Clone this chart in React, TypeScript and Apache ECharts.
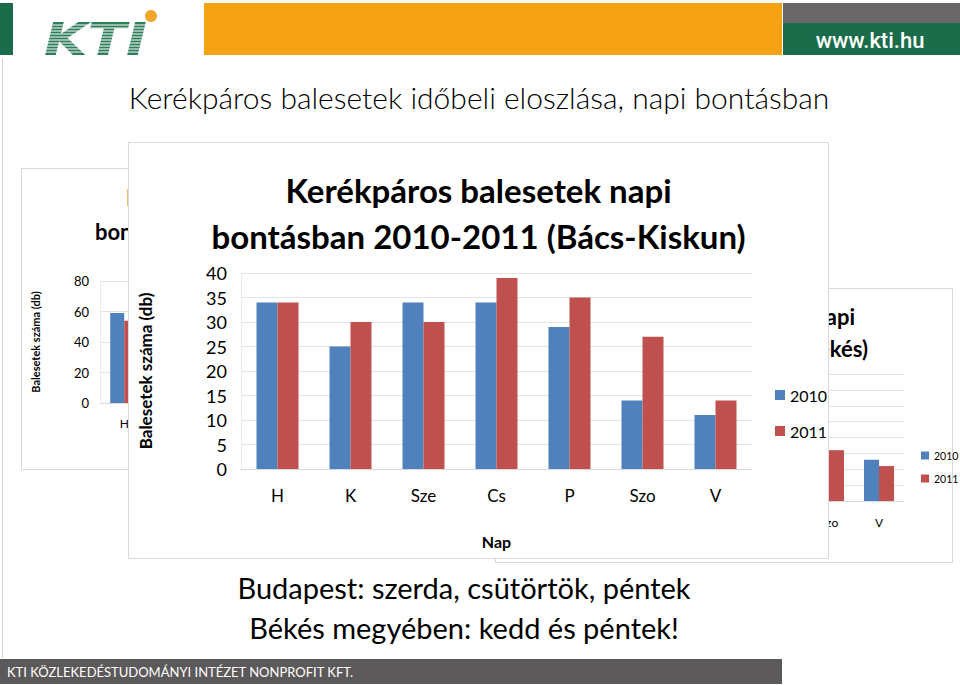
import React, { useEffect, useRef } from "react";
import * as echarts from "echarts";

const days = ["H", "K", "Sze", "Cs", "P", "Szo", "V"];
const seriesNames = ["2010", "2011"];
// Bács-Kiskun (front chart)
const bacs2010 = [34, 25, 34, 34, 29, 14, 11];
const bacs2011 = [34, 30, 30, 39, 35, 27, 14];
// Budapest (background chart, only Monday visible)
const bp2010 = [59, null, null, null, null, null, null];
const bp2011 = [54, null, null, null, null, null, null];
// Békés (background chart, only Sat/Sun visible)
const bekes2010 = [null, null, null, null, null, 20, 13];
const bekes2011 = [null, null, null, null, null, 16, 11];

const bacsTicks = { min: 0, max: 40, interval: 5 };
const bpTicks = { min: 0, max: 80, interval: 20 };
const bekesTicks = { min: 0, max: 40, interval: 5 };

const BLUE = "#4f81bd";
const RED = "#c0504d";
const FONT = "Lato, 'Noto Sans', sans-serif";
const GRID_LINE = "#e3e3e3";

function Chart({ style, option }: { style: React.CSSProperties; option: any }) {
  const ref = useRef<HTMLDivElement>(null);
  useEffect(() => {
    const chart = echarts.init(ref.current!, null, { renderer: "svg" });
    chart.setOption(option);
    return () => chart.dispose();
  }, []);
  return <div ref={ref} style={style} />;
}

const backgroundOption = {
  animation: false,
  backgroundColor: "#fff",
  graphic: [
    { type: "rect", shape: { x: 0, y: 3, width: 13, height: 52 }, style: { fill: "#1b6c4b" } },
    {
      type: "text",
      x: 44,
      y: 40,
      scaleX: 1.28,
      style: {
        text: "KTI",
        font: "italic 900 44px 'DejaVu Sans', sans-serif",
        fill: "#2e7d5b",
        textAlign: "left",
        textVerticalAlign: "middle",
      },
    },
    ...[25, 28, 31, 34, 37, 40, 43, 46, 49, 52].map((y) => ({
      type: "line",
      shape: { x1: 40, y1: y, x2: 165, y2: y },
      style: { stroke: "#ffffff", lineWidth: 1 },
      z: 5,
    })),
    { type: "circle", shape: { cx: 151, cy: 16, r: 6 }, style: { fill: "#f2a72b" }, z: 6 },
    { type: "rect", shape: { x: 204, y: 3, width: 578, height: 52 }, style: { fill: "#f5a214" } },
    { type: "rect", shape: { x: 783, y: 3, width: 177, height: 20 }, style: { fill: "#6a6768" } },
    { type: "rect", shape: { x: 783, y: 23, width: 177, height: 32 }, style: { fill: "#1b6c4b" } },
    {
      type: "text",
      x: 870,
      y: 40,
      style: {
        text: "www.kti.hu",
        font: "500 22px Roboto, sans-serif",
        fill: "#ffffff",
        textAlign: "center",
        textVerticalAlign: "middle",
      },
    },
    {
      type: "text",
      x: 479,
      y: 97,
      style: {
        text: "Kerékpáros balesetek időbeli eloszlása, napi bontásban",
        font: "300 30px " + FONT,
        fill: "#000",
        textAlign: "center",
        textVerticalAlign: "middle",
      },
    },
    {
      type: "text",
      x: 464,
      y: 587,
      style: {
        text: "Budapest: szerda, csütörtök, péntek",
        font: "29px " + FONT,
        fill: "#000",
        textAlign: "center",
        textVerticalAlign: "middle",
      },
    },
    {
      type: "text",
      x: 464,
      y: 627,
      style: {
        text: "Békés megyében: kedd és péntek!",
        font: "29px " + FONT,
        fill: "#000",
        textAlign: "center",
        textVerticalAlign: "middle",
      },
    },
    { type: "rect", shape: { x: 0, y: 659, width: 782, height: 25 }, style: { fill: "#5b5959" } },
    {
      type: "text",
      x: 7,
      y: 672,
      style: {
        text: "KTI KÖZLEKEDÉSTUDOMÁNYI INTÉZET NONPROFIT KFT.",
        font: "13px " + FONT,
        fill: "#ffffff",
        textAlign: "left",
        textVerticalAlign: "middle",
      },
    },
    { type: "line", shape: { x1: 2.5, y1: 58, x2: 2.5, y2: 658 }, style: { stroke: "#d6d6d6", lineWidth: 1 } },
  ],
};

function barSeries(d2010: any[], d2011: any[], width: number) {
  return [
    { name: seriesNames[0], type: "bar", data: d2010, barWidth: width, barGap: "0%", itemStyle: { color: BLUE } },
    { name: seriesNames[1], type: "bar", data: d2011, barWidth: width, barGap: "0%", itemStyle: { color: RED } },
  ];
}

const frontOption = {
  animation: false,
  backgroundColor: "#fff",
  textStyle: { fontFamily: FONT },
  title: {
    text: "Kerékpáros balesetek napi\nbontásban 2010-2011 (Bács-Kiskun)",
    left: "center",
    top: 19,
    textStyle: { fontFamily: FONT, fontSize: 33, fontWeight: "bold", lineHeight: 46, color: "#000" },
  },
  legend: {
    orient: "vertical",
    left: 641,
    top: 239,
    data: seriesNames,
    icon: "rect",
    itemWidth: 10,
    itemHeight: 10,
    itemGap: 20,
    textStyle: { fontFamily: FONT, fontSize: 16, color: "#000" },
  },
  grid: { left: 107, right: 76, top: 130, bottom: 89 },
  xAxis: {
    type: "category",
    data: days,
    axisLine: { lineStyle: { color: "#d9d9d9" } },
    axisTick: { show: false },
    axisLabel: { fontSize: 17, color: "#000", margin: 18 },
    name: "Nap",
    nameLocation: "middle",
    nameGap: 64,
    nameTextStyle: { fontSize: 16, fontWeight: "bold", color: "#000" },
  },
  yAxis: {
    type: "value",
    ...bacsTicks,
    axisLine: { show: true, lineStyle: { color: "#ececec" } },
    axisLabel: { fontSize: 18, color: "#000", margin: 14 },
    splitLine: { lineStyle: { color: GRID_LINE } },
    name: "Balesetek száma (db)",
    nameLocation: "middle",
    nameGap: 87,
    nameTextStyle: { fontSize: 17, fontWeight: "bold", color: "#000" },
  },
  series: barSeries(bacs2010, bacs2011, 21),
};

const budapestOption = {
  animation: false,
  backgroundColor: "#fff",
  textStyle: { fontFamily: FONT },
  graphic: [
    {
      type: "text",
      x: 104,
      y: 28,
      style: { text: "Kerékpáros balesetek napi", font: "bold 22px " + FONT, fill: "#000", textVerticalAlign: "middle" },
    },
    {
      type: "text",
      x: 73,
      y: 62,
      style: { text: "bontásban 2010-2011 (Budapest)", font: "bold 22px " + FONT, fill: "#000", textVerticalAlign: "middle" },
    },
  ],
  grid: { left: 74, top: 112, width: 343, bottom: 66 },
  xAxis: {
    type: "category",
    data: days,
    axisLine: { lineStyle: { color: "#d9d9d9" } },
    axisTick: { show: false },
    axisLabel: { fontSize: 12, color: "#000", margin: 14 },
  },
  yAxis: {
    type: "value",
    ...bpTicks,
    axisLine: { show: true, lineStyle: { color: "#ececec" } },
    axisLabel: { fontSize: 13, color: "#000", margin: 11 },
    splitLine: { lineStyle: { color: GRID_LINE } },
    name: "Balesetek száma (db)",
    nameLocation: "middle",
    nameGap: 59,
    nameTextStyle: { fontSize: 11, fontWeight: "bold", color: "#000" },
  },
  series: barSeries(bp2010, bp2011, 14),
};

const bekesOption = {
  animation: false,
  backgroundColor: "#fff",
  textStyle: { fontFamily: FONT },
  graphic: [
    {
      type: "rect",
      silent: true,
      shape: { x: 0.5, y: 0.5, width: 457, height: 274 },
      style: { fill: "none", stroke: "#d9d9d9", lineWidth: 1 },
    },
    {
      type: "text",
      x: 360,
      y: 28,
      style: { text: "Kerékpáros balesetek napi", font: "bold 22px " + FONT, fill: "#000", textAlign: "right", textVerticalAlign: "middle" },
    },
    {
      type: "text",
      x: 373,
      y: 60,
      style: { text: "bontásban 2010-2011 (Békés)", font: "bold 22px " + FONT, fill: "#000", textAlign: "right", textVerticalAlign: "middle" },
    },
  ],
  legend: {
    orient: "vertical",
    left: 421,
    top: 157,
    data: seriesNames,
    icon: "rect",
    itemWidth: 8,
    itemHeight: 8,
    itemGap: 12,
    textStyle: { fontFamily: FONT, fontSize: 10.5, color: "#000" },
  },
  grid: { left: 59, right: 56, top: 86, bottom: 62 },
  xAxis: {
    type: "category",
    data: days,
    axisLine: { lineStyle: { color: "#d9d9d9" } },
    axisTick: { show: false },
    axisLabel: { fontSize: 12, color: "#000", margin: 15 },
  },
  yAxis: {
    type: "value",
    ...bekesTicks,
    axisLine: { show: true, lineStyle: { color: "#ececec" } },
    axisLabel: { fontSize: 12, color: "#000", margin: 10 },
    splitLine: { lineStyle: { color: GRID_LINE } },
  },
  series: barSeries(bekes2010, bekes2011, 15),
};

export default function App() {
  const panel = (left: number, top: number, width: number, height: number, z: number): React.CSSProperties => ({
    position: "absolute",
    left,
    top,
    width,
    height,
    zIndex: z,
    boxSizing: "border-box",
    border: "1px solid #d9d9d9",
    background: "#fff",
  });
  return (
    <div style={{ position: "fixed", left: 0, top: 0, width: 960, height: 685, background: "#fff", overflow: "hidden" }}>
      <Chart style={{ position: "absolute", left: 0, top: 0, width: 960, height: 685, zIndex: 0 }} option={backgroundOption} />
      <Chart style={panel(21, 168, 560, 302, 1)} option={budapestOption} />
      <Chart style={{ position: "absolute", left: 495, top: 288, width: 465, height: 275, zIndex: 2 }} option={bekesOption} />
      <Chart style={panel(128, 142, 701, 417, 3)} option={frontOption} />
    </div>
  );
}
